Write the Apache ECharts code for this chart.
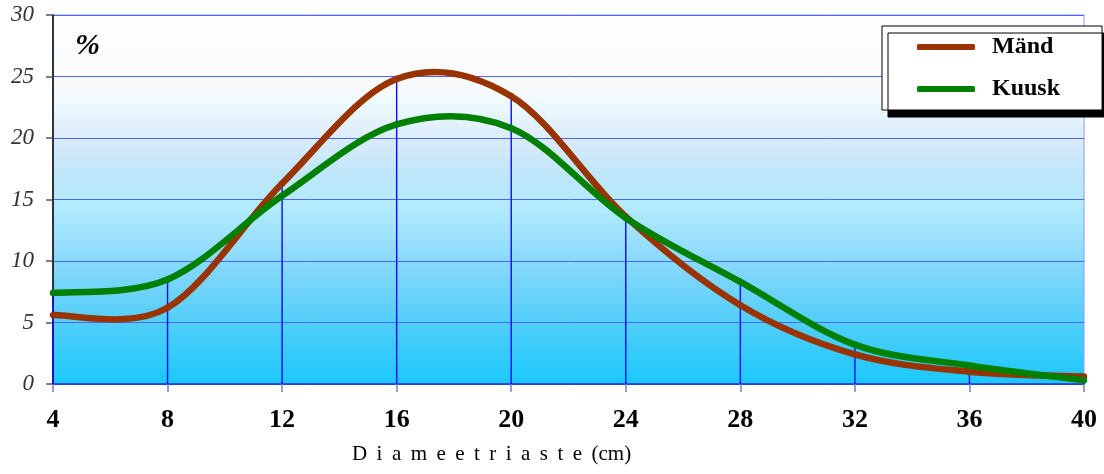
<!DOCTYPE html>
<html>
<head>
<meta charset="utf-8">
<script src="https://cdn.jsdelivr.net/npm/echarts@6/dist/echarts.min.js"></script>
<style>
html,body{margin:0;padding:0;background:#fff;}
#c{width:1104px;height:474px;}
</style>
</head>
<body>
<div id="c"></div>
<script>
var diameters = [4, 8, 12, 16, 20, 24, 28, 32, 36, 40];
var mand  = [5.6, 6.2, 16.3, 24.8, 23.4, 13.6, 6.4, 2.4, 1.0, 0.6];
var kuusk = [7.4, 8.5, 15.3, 21.1, 20.8, 13.5, 8.3, 3.2, 1.5, 0.3];
var yTicks = [0, 5, 10, 15, 20, 25, 30];

var serif = '"Liberation Serif", "DejaVu Serif", serif';

function pairs(arr) {
  return diameters.map(function (d, i) { return [d, arr[i]]; });
}
var dropData = diameters.map(function (d, i) { return [d, Math.max(mand[i], kuusk[i])]; });

// Smoothed (Catmull-Rom style) curve segment through the data points, positioned by the axes
function curveRenderer(arr, color) {
  return function (params, api) {
    var i = params.dataIndex;
    var n = diameters.length;
    if (i >= n - 1) return null;
    function pt(j) {
      j = Math.max(0, Math.min(n - 1, j));
      return api.coord([diameters[j], arr[j]]);
    }
    var p0 = pt(i - 1), p1 = pt(i), p2 = pt(i + 1), p3 = pt(i + 2);
    var c1 = [p1[0] + (p2[0] - p0[0]) / 6, p1[1] + (p2[1] - p0[1]) / 6];
    var c2 = [p2[0] - (p3[0] - p1[0]) / 6, p2[1] - (p3[1] - p1[1]) / 6];
    return {
      type: 'bezierCurve',
      shape: { x1: p1[0], y1: p1[1], x2: p2[0], y2: p2[1], cpx1: c1[0], cpy1: c1[1], cpx2: c2[0], cpy2: c2[1] },
      style: { stroke: color, lineWidth: 6.5, fill: null, lineCap: 'round', lineJoin: 'round' }
    };
  };
}

var chart = echarts.init(document.getElementById('c'));
chart.setOption({
  animation: false,
  title: {
    text: '%',
    left: 70,
    top: 26,
    textStyle: { fontFamily: serif, fontSize: 30, fontWeight: 'bold', fontStyle: 'italic', color: '#000' }
  },
  graphic: [{
    type: 'text',
    left: 352,
    top: 444,
    silent: true,
    style: {
      text: 'D \u2009i \u2009a \u2009m \u2009e \u2009e \u2009t \u2009r \u2009i \u2009a \u2009s \u2009t \u2009e \u2009(cm)',
      font: '21px "Liberation Serif", serif',
      fill: '#000'
    }
  }],
  grid: {
    left: 53, right: 20, top: 15, bottom: 90,
    show: true,
    borderColor: '#8a98ff',
    borderWidth: 1,
    backgroundColor: {
      type: 'linear', x: 0, y: 0, x2: 0, y2: 1,
      colorStops: [
        { offset: 0.00, color: '#ffffff' },
        { offset: 0.21, color: '#f7f9fb' },
        { offset: 0.23, color: '#effcff' },
        { offset: 0.33, color: '#dcecfa' },
        { offset: 0.43, color: '#bfe6fa' },
        { offset: 0.52, color: '#b2ebfd' },
        { offset: 0.62, color: '#97defc' },
        { offset: 0.72, color: '#78d5fa' },
        { offset: 0.82, color: '#55cff9' },
        { offset: 0.92, color: '#34cbfa' },
        { offset: 1.00, color: '#19c8fb' }
      ]
    }
  },
  legend: {
    orient: 'vertical',
    left: 882,
    top: 26,
    data: ['Mänd', 'Kuusk'],
    icon: 'roundRect',
    itemWidth: 58,
    itemHeight: 6,
    itemGap: 18,
    padding: [9, 42, 9, 35],
    backgroundColor: '#ffffff',
    borderColor: '#000000',
    borderWidth: 1,
    borderRadius: 0,
    shadowColor: '#000000',
    shadowBlur: 0,
    shadowOffsetX: 6,
    shadowOffsetY: 7,
    textStyle: { fontFamily: serif, fontSize: 24, fontWeight: 'bold', color: '#000', lineHeight: 24, padding: [0, 0, 0, 12] }
  },
  xAxis: {
    type: 'value',
    min: 4, max: 40, interval: 4,
    axisLine: { show: true, onZero: false, lineStyle: { color: '#2233cc', width: 1.5 } },
    axisTick: { show: true, length: 8, lineStyle: { color: '#7080c8', width: 1.5 } },
    axisLabel: { fontFamily: serif, fontSize: 26, fontWeight: 'bold', color: '#000', margin: 23 },
    splitLine: { show: false }
  },
  yAxis: {
    type: 'value',
    min: 0, max: 30, interval: 5,
    axisLine: { show: true, lineStyle: { color: '#000', width: 1.5 } },
    axisTick: { show: true, length: 7, lineStyle: { color: '#555', width: 1.5 } },
    axisLabel: {
      fontFamily: serif, fontSize: 23, fontStyle: 'italic', color: '#333', margin: 19,
      formatter: function (v) { return yTicks.indexOf(v) >= 0 ? String(v) : ''; }
    },
    splitLine: { show: true, lineStyle: { color: '#4a66ff', width: 1 } }
  },
  series: [
    {
      type: 'custom',
      silent: true,
      z: 1,
      data: dropData,
      renderItem: function (params, api) {
        var top = api.coord([api.value(0), api.value(1)]);
        var bot = api.coord([api.value(0), 0]);
        return {
          type: 'line',
          shape: { x1: top[0], y1: top[1], x2: bot[0], y2: bot[1] },
          style: { stroke: '#0a0aff', lineWidth: 1.4 }
        };
      }
    },
    {
      name: 'Mänd',
      type: 'custom',
      z: 3,
      silent: true,
      data: pairs(mand),
      itemStyle: { color: '#993300' },
      renderItem: curveRenderer(mand, '#993300')
    },
    {
      name: 'Kuusk',
      type: 'custom',
      z: 4,
      silent: true,
      data: pairs(kuusk),
      itemStyle: { color: '#008000' },
      renderItem: curveRenderer(kuusk, '#008000')
    }
  ]
});
</script>
</body>
</html>
